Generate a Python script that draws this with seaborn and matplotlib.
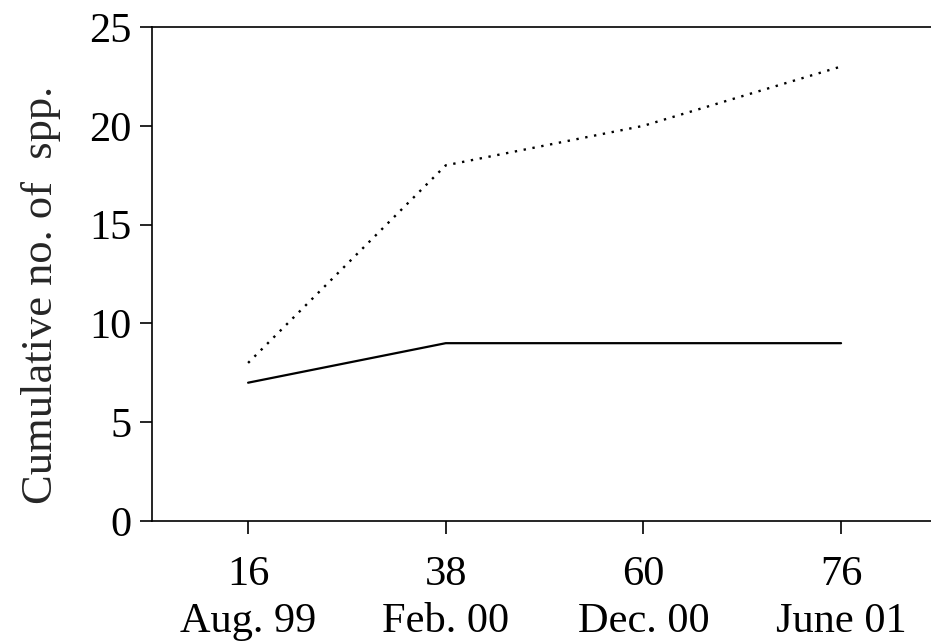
import matplotlib
matplotlib.use("Agg")
import matplotlib.pyplot as plt
import seaborn as sns
import pandas as pd

# Sampling occasions: weeks since start and survey month
weeks = ["16", "38", "60", "76"]
months = ["Aug. 99", "Feb. 00", "Dec. 00", "June 01"]
total_species = [8, 18, 20, 23]      # dotted series
resident_species = [7, 9, 9, 9]      # solid series

labels = [f"{w}\n{m}" for w, m in zip(weeks, months)]

sns.set_theme(style="ticks")
plt.rcParams["font.family"] = ["Liberation Serif", "DejaVu Serif"]

fig = plt.figure(figsize=(9.31, 6.43), dpi=100)
ax = fig.add_axes([0.1633, 0.1897, 0.8367, 0.7683])

df_total = pd.DataFrame({"occasion": labels, "spp": total_species})
df_res = pd.DataFrame({"occasion": labels, "spp": resident_species})

sns.lineplot(data=df_total, x="occasion", y="spp", ax=ax, color="black",
             linewidth=1.7, linestyle=(0, (1, 2.8)), sort=False)
sns.lineplot(data=df_res, x="occasion", y="spp", ax=ax, color="black",
             linewidth=1.6, sort=False)

ax.set_ylim(0, 25)
ax.set_xlim(-0.486, 3.455)
ax.set_yticks([0, 5, 10, 15, 20, 25])
ax.set_xlabel("")
ax.set_ylabel("Cumulative no. of  spp.", fontsize=32, labelpad=20)
ax.yaxis.label.set_y(0.458)

for side in ["left", "bottom", "top"]:
    ax.spines[side].set_linewidth(1.2)
    ax.spines[side].set_color("black")
ax.spines["right"].set_visible(False)

ax.tick_params(axis="both", direction="out", length=9, width=1.2,
               color="black", labelsize=30.5, labelcolor="black")
ax.tick_params(axis="x", pad=16)
ax.tick_params(axis="y", pad=6)
for t in ax.get_xticklabels():
    t.set_linespacing(1.28)

fig.savefig("out.png", dpi=100, facecolor="white")
